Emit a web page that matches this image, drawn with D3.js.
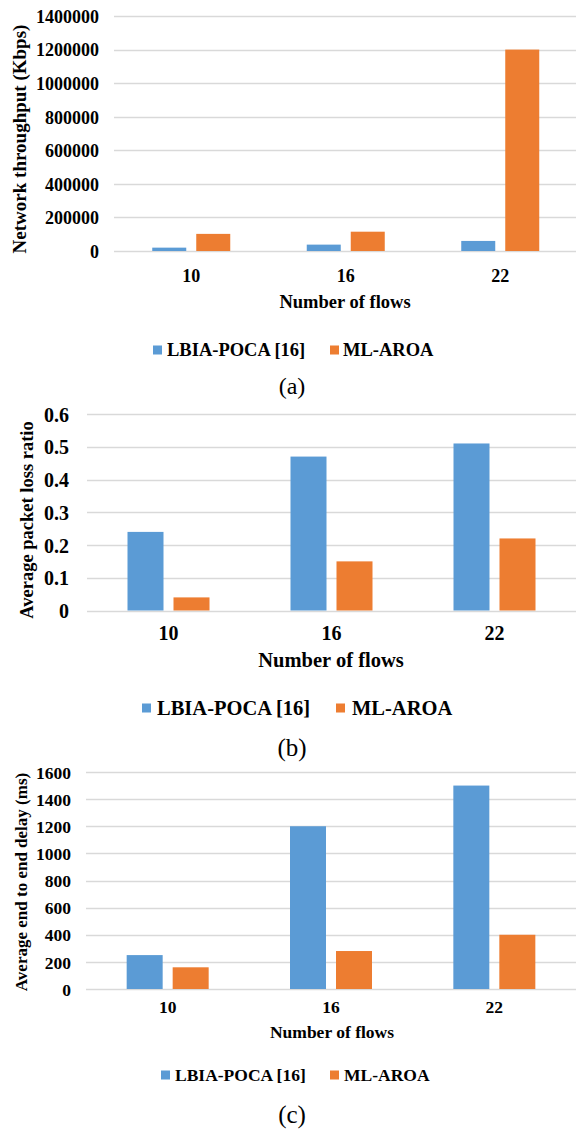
<!DOCTYPE html>
<html><head><meta charset="utf-8">
<script src="https://cdn.jsdelivr.net/npm/d3@7"></script>
<style>html,body{margin:0;padding:0;background:#fff;}svg{display:block;}</style>
</head><body><svg id="c" width="576" height="1129"></svg>
<script>
const categories = ["10", "16", "22"];
const seriesNames = ["LBIA-POCA [16]", "ML-AROA"];
const colors = ["#5b9bd5", "#ed7d31"];

const throughputLBIA = [20000, 38000, 60000];
const throughputMLAROA = [102000, 115000, 1200000];
const throughputTicks = [0, 200000, 400000, 600000, 800000, 1000000, 1200000, 1400000];

const lossLBIA = [0.24, 0.47, 0.51];
const lossMLAROA = [0.04, 0.15, 0.22];
const lossTicks = [0, 0.1, 0.2, 0.3, 0.4, 0.5, 0.6];

const delayLBIA = [250, 1200, 1500];
const delayMLAROA = [160, 280, 400];
const delayTicks = [0, 200, 400, 600, 800, 1000, 1200, 1400, 1600];

const svg = d3.select("#c");
const FONT = 'Tinos, "Liberation Serif", LiberationSerif, "Times New Roman", Times, "Nimbus Roman", "Nimbus Roman No9 L", "Noto Serif", "DejaVu Serif", FreeSerif, "Noto Serif CJK SC", serif';

function styleText(sel, size, bold) {
  sel.style("font-family", FONT).style("font-weight", bold ? "bold" : "normal")
     .style("font-size", size + "px").attr("fill", "#000");
}

function drawChart(o) {
  const g = svg.append("g");
  const y = d3.scaleLinear().domain([0, d3.max(o.ticks)]).range([o.y0, o.y1]);
  const x0 = d3.scaleBand().domain(categories).range([o.left, o.right]);
  const bw = x0.bandwidth();
  const gw = 2 * o.barW + o.gap;
  const x1 = d3.scaleBand().domain(seriesNames)
      .range([(bw - gw) / 2, (bw + gw) / 2])
      .paddingInner(o.gap / (o.barW + o.gap)).paddingOuter(0);

  g.append("g").selectAll("line").data(o.ticks).join("line")
    .attr("x1", o.left).attr("x2", 576)
    .attr("y1", d => Math.round(y(d)) + 0.5).attr("y2", d => Math.round(y(d)) + 0.5)
    .attr("stroke", "#d9d9d9").attr("stroke-width", 1.3);

  const yAxis = d3.axisLeft(y).tickValues(o.ticks).tickSize(0).tickPadding(0)
    .tickFormat(d => String(d));
  const ya = g.append("g").attr("transform", `translate(${o.labelRight},0)`).call(yAxis);
  ya.attr("font-family", null);
  ya.select(".domain").remove();
  styleText(ya.selectAll("text"), o.tickSize, true);
  ya.selectAll("text").attr("dy", "0.35em");

  const vals = [o.a, o.b];
  const grp = g.append("g").selectAll("g").data(categories).join("g")
    .attr("transform", d => `translate(${x0(d)},0)`);
  grp.selectAll("rect").data((d, i) => seriesNames.map((s, k) => ({s, k, v: vals[k][i]})))
    .join("rect")
    .attr("x", d => x1(d.s)).attr("width", x1.bandwidth())
    .attr("y", d => y(d.v)).attr("height", d => y(0) - y(d.v))
    .attr("fill", d => colors[d.k]);

  const xAxis = d3.axisBottom(x0).tickSize(0).tickPadding(0);
  const xa = g.append("g").attr("transform", `translate(0,${o.xLabelY})`).call(xAxis);
  xa.attr("font-family", null);
  xa.select(".domain").remove();
  styleText(xa.selectAll("text"), o.tickSize, true);
  xa.selectAll("text").attr("dy", "0.35em").attr("y", 0);

  styleText(g.append("text").attr("x", o.xTitleX).attr("y", o.xTitleY).attr("dy", "0.35em")
    .attr("text-anchor", "middle").text("Number of flows"), o.xTitleSize, true);
  styleText(g.append("text").attr("transform", `translate(${o.yTitleX},${o.yTitleY}) rotate(-90)`)
    .attr("dy", "0.35em").attr("text-anchor", "middle").text(o.yTitle), o.yTitleSize, true);

  const lg = g.append("g");
  seriesNames.forEach((s, k) => {
    lg.append("rect").attr("x", o.legSq[k]).attr("y", o.legY - o.sq / 2)
      .attr("width", o.sq).attr("height", o.sq).attr("fill", colors[k]);
    styleText(lg.append("text").attr("x", o.legTx[k]).attr("y", o.legY).attr("dy", "0.35em")
      .text(s), o.legSize, true);
  });

  styleText(g.append("text").attr("x", o.capX).attr("y", o.capY).attr("dy", "0.35em")
    .attr("text-anchor", "middle").text(o.caption), o.capSize, false);
}

drawChart({
  a: throughputLBIA, b: throughputMLAROA, ticks: throughputTicks,
  y0: 251, y1: 16, left: 114, right: 577.5, barW: 34, gap: 10,
  labelRight: 99, tickSize: 18, xLabelY: 276,
  xTitleX: 345, xTitleY: 302, xTitleSize: 18.5,
  yTitle: "Network throughput (Kbps)", yTitleX: 19, yTitleY: 139, yTitleSize: 19,
  legY: 350, sq: 9, legSq: [153, 330], legTx: [167, 343], legSize: 18.5,
  caption: "(a)", capX: 292, capY: 386, capSize: 24
});

drawChart({
  a: lossLBIA, b: lossMLAROA, ticks: lossTicks,
  y0: 610.5, y1: 414, left: 87, right: 576, barW: 36, gap: 10,
  labelRight: 69, tickSize: 20, xLabelY: 633,
  xTitleX: 331, xTitleY: 660, xTitleSize: 20.5,
  yTitle: "Average packet loss ratio", yTitleX: 27, yTitleY: 520, yTitleSize: 18.5,
  legY: 708, sq: 9, legSq: [142, 336], legTx: [157, 352], legSize: 20.5,
  caption: "(b)", capX: 292, capY: 747, capSize: 25
});

drawChart({
  a: delayLBIA, b: delayMLAROA, ticks: delayTicks,
  y0: 989, y1: 772, left: 86, right: 576, barW: 36, gap: 10,
  labelRight: 71, tickSize: 17.5, xLabelY: 1007,
  xTitleX: 332, xTitleY: 1032, xTitleSize: 17.5,
  yTitle: "Average end to end delay (ms)", yTitleX: 21, yTitleY: 882, yTitleSize: 17,
  legY: 1075, sq: 9, legSq: [161, 330], legTx: [175, 344], legSize: 17.5,
  caption: "(c)", capX: 292, capY: 1114, capSize: 25
});
</script></body></html>
